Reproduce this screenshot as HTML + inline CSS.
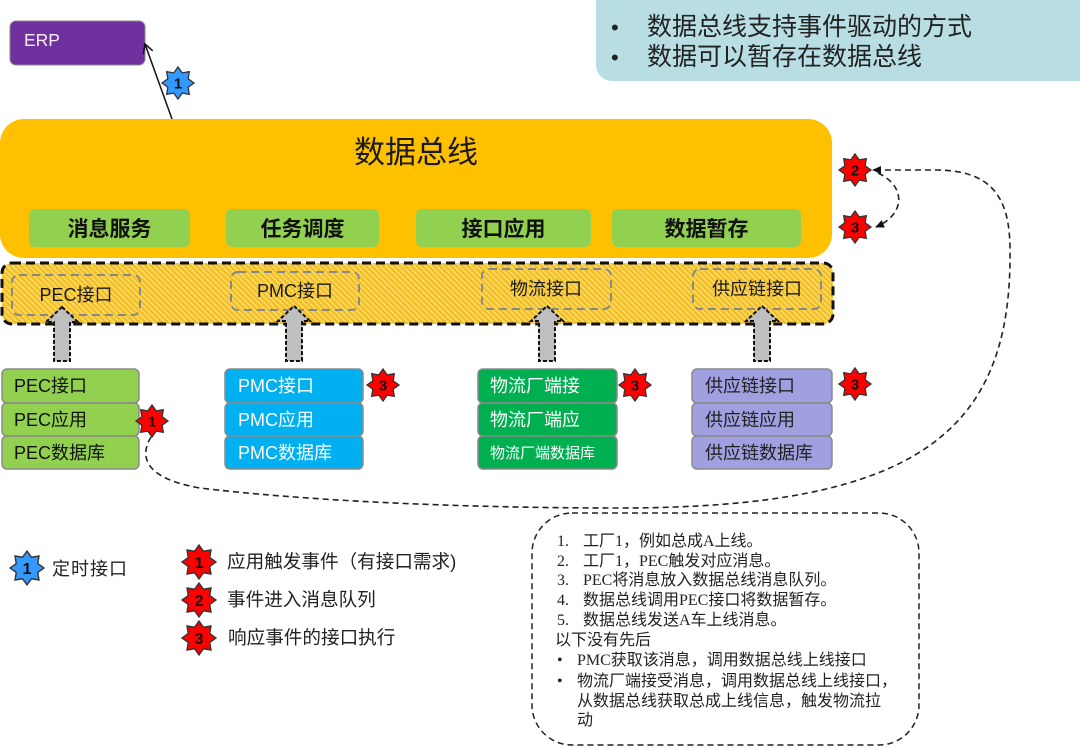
<!DOCTYPE html>
<html>
<head>
<meta charset="utf-8">
<style>
  html,body{margin:0;padding:0;background:#fff;}
  body{width:1080px;height:748px;overflow:hidden;}
  svg{display:block;}
  text{font-family:"Liberation Sans","Noto Sans CJK SC",sans-serif;}
  .serif{font-family:"Liberation Serif","Noto Sans CJK SC",serif;}
</style>
</head>
<body>
<svg width="1080" height="748" viewBox="0 0 1080 748" xmlns="http://www.w3.org/2000/svg">
  <defs>
    <pattern id="hatch" width="4" height="4" patternUnits="userSpaceOnUse" patternTransform="rotate(-45)">
      <rect width="4" height="4" fill="#F3C01E"/>
      <rect width="1.5" height="4" fill="#F9DA78"/>
    </pattern>
    <polygon id="star" points="0,-16 4.21,-10.16 11.31,-11.31 10.16,-4.21 16,0 10.16,4.21 11.31,11.31 4.21,10.16 0,16 -4.21,10.16 -11.31,11.31 -10.16,4.21 -16,0 -10.16,-4.21 -11.31,-11.31 -4.21,-10.16"/>
    <marker id="openArrow" markerWidth="12" markerHeight="12" refX="10" refY="6" orient="auto" markerUnits="userSpaceOnUse">
      <path d="M1,1 L10,6 L1,11" fill="none" stroke="#111" stroke-width="1.5"/>
    </marker>
    <marker id="fillArrow" markerWidth="10" markerHeight="10" refX="8" refY="5" orient="auto" markerUnits="userSpaceOnUse">
      <path d="M0,1 L9,5 L0,9 Z" fill="#111"/>
    </marker>
  </defs>

  <!-- Top-right note -->
  <rect x="596" y="-20" width="500" height="101" rx="16" fill="#B8DEE3"/>
  <text x="611" y="35" font-size="22" fill="#222">•</text>
  <text x="647" y="35" font-size="25" fill="#222">数据总线支持事件驱动的方式</text>
  <text x="611" y="65" font-size="22" fill="#222">•</text>
  <text x="647" y="65" font-size="25" fill="#222">数据可以暂存在数据总线</text>

  <!-- ERP -->
  <rect x="10" y="21" width="135" height="44" rx="6" fill="#7030A0" stroke="#8a8a8a" stroke-width="1"/>
  <text x="24" y="46" font-size="17.5" fill="#F2F2F2">ERP</text>
  <line x1="172" y1="119" x2="145" y2="44" stroke="#111" stroke-width="1.5" marker-end="url(#openArrow)"/>
  <g transform="translate(178,83)">
    <use href="#star" fill="#3399FF" stroke="#333" stroke-width="1.3"/>
    <text x="0" y="5.5" font-size="15" font-weight="bold" text-anchor="middle" fill="#111">1</text>
  </g>

  <!-- Data bus -->
  <rect x="0" y="119" width="832" height="139" rx="24" fill="#FFC000"/>
  <text x="416" y="163" font-size="31" text-anchor="middle" fill="#1a1a1a">数据总线</text>

  <rect x="29" y="209" width="161" height="38" rx="6" fill="#92D050"/>
  <text x="109.5" y="236" font-size="21" font-weight="bold" text-anchor="middle" fill="#111">消息服务</text>
  <rect x="226" y="209" width="153" height="38" rx="6" fill="#92D050"/>
  <text x="302.5" y="236" font-size="21" font-weight="bold" text-anchor="middle" fill="#111">任务调度</text>
  <rect x="416" y="209" width="175" height="38" rx="6" fill="#92D050"/>
  <text x="503.5" y="236" font-size="21" font-weight="bold" text-anchor="middle" fill="#111">接口应用</text>
  <rect x="612" y="209" width="189" height="38" rx="6" fill="#92D050"/>
  <text x="706.5" y="236" font-size="21" font-weight="bold" text-anchor="middle" fill="#111">数据暂存</text>

  <!-- Interface band -->
  <rect x="2" y="263" width="831" height="61" rx="10" fill="url(#hatch)" stroke="#111" stroke-width="3" stroke-dasharray="9 5"/>
  <rect x="12" y="275" width="128" height="40" rx="7" fill="none" stroke="#888" stroke-width="2" stroke-dasharray="8 5"/>
  <text x="76" y="301" font-size="18" text-anchor="middle" fill="#1a1a1a">PEC接口</text>
  <rect x="231" y="272" width="128" height="38" rx="7" fill="none" stroke="#888" stroke-width="2" stroke-dasharray="8 5"/>
  <text x="295" y="297" font-size="18" text-anchor="middle" fill="#1a1a1a">PMC接口</text>
  <rect x="482" y="269" width="129" height="40" rx="7" fill="none" stroke="#888" stroke-width="2" stroke-dasharray="8 5"/>
  <text x="546" y="295" font-size="18" text-anchor="middle" fill="#1a1a1a">物流接口</text>
  <rect x="693" y="269" width="128" height="40" rx="7" fill="none" stroke="#888" stroke-width="2" stroke-dasharray="8 5"/>
  <text x="757" y="295" font-size="18" text-anchor="middle" fill="#1a1a1a">供应链接口</text>

  <!-- Up arrows -->
  <g fill="#BFBFBF" stroke="#111" stroke-width="2" stroke-dasharray="4 2">
    <polygon points="62,307 78,322 70,322 70,361 54,361 54,322 46,322"/>
    <polygon points="294,306 310,321 302,321 302,361 286,361 286,321 278,321"/>
    <polygon points="547,306 563,321 555,321 555,361 539,361 539,321 531,321"/>
    <polygon points="762,306 778,321 770,321 770,361 754,361 754,321 746,321"/>
  </g>

  <!-- PEC stack -->
  <g stroke="#8a8a8a" stroke-width="1.5">
    <rect x="2" y="369" width="137" height="34" rx="5" fill="#92D050"/>
    <rect x="2" y="403" width="137" height="33" rx="5" fill="#92D050"/>
    <rect x="2" y="436" width="137" height="33" rx="5" fill="#92D050"/>
  </g>
  <text x="14" y="392" font-size="18" fill="#111">PEC接口</text>
  <text x="14" y="426" font-size="18" fill="#111">PEC应用</text>
  <text x="14" y="459" font-size="18" fill="#111">PEC数据库</text>

  <!-- PMC stack -->
  <g stroke="#8a8a8a" stroke-width="1.5">
    <rect x="225" y="369" width="138" height="34" rx="5" fill="#00B0F0"/>
    <rect x="225" y="403" width="138" height="33" rx="5" fill="#00B0F0"/>
    <rect x="225" y="436" width="138" height="33" rx="5" fill="#00B0F0"/>
  </g>
  <text x="238" y="392" font-size="18" fill="#fff">PMC接口</text>
  <text x="238" y="426" font-size="18" fill="#fff">PMC应用</text>
  <text x="238" y="459" font-size="18" fill="#fff">PMC数据库</text>

  <!-- Logistics stack -->
  <g stroke="#8a8a8a" stroke-width="1.5">
    <rect x="478" y="369" width="139" height="34" rx="5" fill="#00B050"/>
    <rect x="478" y="403" width="139" height="33" rx="5" fill="#00B050"/>
    <rect x="478" y="436" width="139" height="33" rx="5" fill="#00B050"/>
  </g>
  <text x="490" y="392" font-size="18" fill="#fff">物流厂端接</text>
  <text x="490" y="426" font-size="18" fill="#fff">物流厂端应</text>
  <text x="490" y="458" font-size="15" fill="#fff">物流厂端数据库</text>

  <!-- Supply chain stack -->
  <g stroke="#8a8a8a" stroke-width="1.5">
    <rect x="692" y="369" width="140" height="34" rx="5" fill="#A0A0E0"/>
    <rect x="692" y="403" width="140" height="33" rx="5" fill="#A0A0E0"/>
    <rect x="692" y="436" width="140" height="33" rx="5" fill="#A0A0E0"/>
  </g>
  <text x="705" y="392" font-size="18" fill="#222">供应链接口</text>
  <text x="705" y="426" font-size="18" fill="#222">供应链应用</text>
  <text x="705" y="459" font-size="18" fill="#222">供应链数据库</text>

  <!-- Dashed connectors -->
  <path d="M151,437 C140,455 142,478 200,488 C300,500 450,508 620,508 C920,508 1012,430 1010,250 C1010,195 990,170 935,170 L873,170" fill="none" stroke="#222" stroke-width="1.6" stroke-dasharray="6 4" marker-end="url(#fillArrow)"/>
  <path d="M878,173 C906,186 906,214 876,227" fill="none" stroke="#222" stroke-width="1.6" stroke-dasharray="6 4" marker-end="url(#fillArrow)"/>

  <!-- Red stars -->
  <g transform="translate(152,421)">
    <use href="#star" fill="#FF0000" stroke="#333" stroke-width="1.3"/>
    <text x="0" y="5.5" font-size="15" font-weight="bold" text-anchor="middle" fill="#111">1</text>
  </g>
  <g transform="translate(383,385)">
    <use href="#star" fill="#FF0000" stroke="#333" stroke-width="1.3"/>
    <text x="0" y="5.5" font-size="15" font-weight="bold" text-anchor="middle" fill="#111">3</text>
  </g>
  <g transform="translate(635,385)">
    <use href="#star" fill="#FF0000" stroke="#333" stroke-width="1.3"/>
    <text x="0" y="5.5" font-size="15" font-weight="bold" text-anchor="middle" fill="#111">3</text>
  </g>
  <g transform="translate(855,384)">
    <use href="#star" fill="#FF0000" stroke="#333" stroke-width="1.3"/>
    <text x="0" y="5.5" font-size="15" font-weight="bold" text-anchor="middle" fill="#111">3</text>
  </g>
  <g transform="translate(855,170)">
    <use href="#star" fill="#FF0000" stroke="#333" stroke-width="1.3"/>
    <text x="0" y="5.5" font-size="15" font-weight="bold" text-anchor="middle" fill="#111">2</text>
  </g>
  <g transform="translate(855,227)">
    <use href="#star" fill="#FF0000" stroke="#333" stroke-width="1.3"/>
    <text x="0" y="5.5" font-size="15" font-weight="bold" text-anchor="middle" fill="#111">3</text>
  </g>

  <!-- Legend -->
  <g transform="translate(27,568) scale(1.06)">
    <use href="#star" fill="#3399FF" stroke="#333" stroke-width="1.3"/>
    <text x="0" y="5.5" font-size="15" font-weight="bold" text-anchor="middle" fill="#111">1</text>
  </g>
  <text x="52" y="575" font-size="18" letter-spacing="1" fill="#222">定时接口</text>

  <g transform="translate(199,562) scale(1.06)">
    <use href="#star" fill="#FF0000" stroke="#333" stroke-width="1.3"/>
    <text x="0" y="5.5" font-size="15" font-weight="bold" text-anchor="middle" fill="#111">1</text>
  </g>
  <g transform="translate(199,600) scale(1.06)">
    <use href="#star" fill="#FF0000" stroke="#333" stroke-width="1.3"/>
    <text x="0" y="5.5" font-size="15" font-weight="bold" text-anchor="middle" fill="#111">2</text>
  </g>
  <g transform="translate(199,638) scale(1.06)">
    <use href="#star" fill="#FF0000" stroke="#333" stroke-width="1.3"/>
    <text x="0" y="5.5" font-size="15" font-weight="bold" text-anchor="middle" fill="#111">3</text>
  </g>
  <text x="227" y="568" font-size="18.6" fill="#222">应用触发事件（有接口需求)</text>
  <text x="227" y="606" font-size="18.6" fill="#222">事件进入消息队列</text>
  <text x="228" y="644" font-size="18.6" fill="#222">响应事件的接口执行</text>

  <!-- Notes box -->
  <rect x="532" y="513" width="387" height="232" rx="40" fill="none" stroke="#222" stroke-width="1.5" stroke-dasharray="6 4"/>
  <g class="serif" font-size="16" fill="#222">
    <text x="557" y="546" class="serif">1.</text><text x="583" y="546" class="serif">工厂1，例如总成A上线。</text>
    <text x="557" y="566" class="serif">2.</text><text x="583" y="566" class="serif">工厂1，PEC触发对应消息。</text>
    <text x="557" y="585" class="serif">3.</text><text x="583" y="585" class="serif">PEC将消息放入数据总线消息队列。</text>
    <text x="557" y="605" class="serif">4.</text><text x="583" y="605" class="serif">数据总线调用PEC接口将数据暂存。</text>
    <text x="557" y="625" class="serif">5.</text><text x="583" y="625" class="serif">数据总线发送A车上线消息。</text>
    <text x="555" y="645" class="serif">以下没有先后</text>
    <text x="557" y="665" class="serif">•</text><text x="577" y="665" class="serif">PMC获取该消息，调用数据总线上线接口</text>
    <text x="557" y="686" class="serif">•</text><text x="577" y="686" class="serif">物流厂端接受消息，调用数据总线上线接口，</text>
    <text x="577" y="706" class="serif">从数据总线获取总成上线信息，触发物流拉</text>
    <text x="577" y="725" class="serif">动</text>
  </g>
</svg>
</body>
</html>
